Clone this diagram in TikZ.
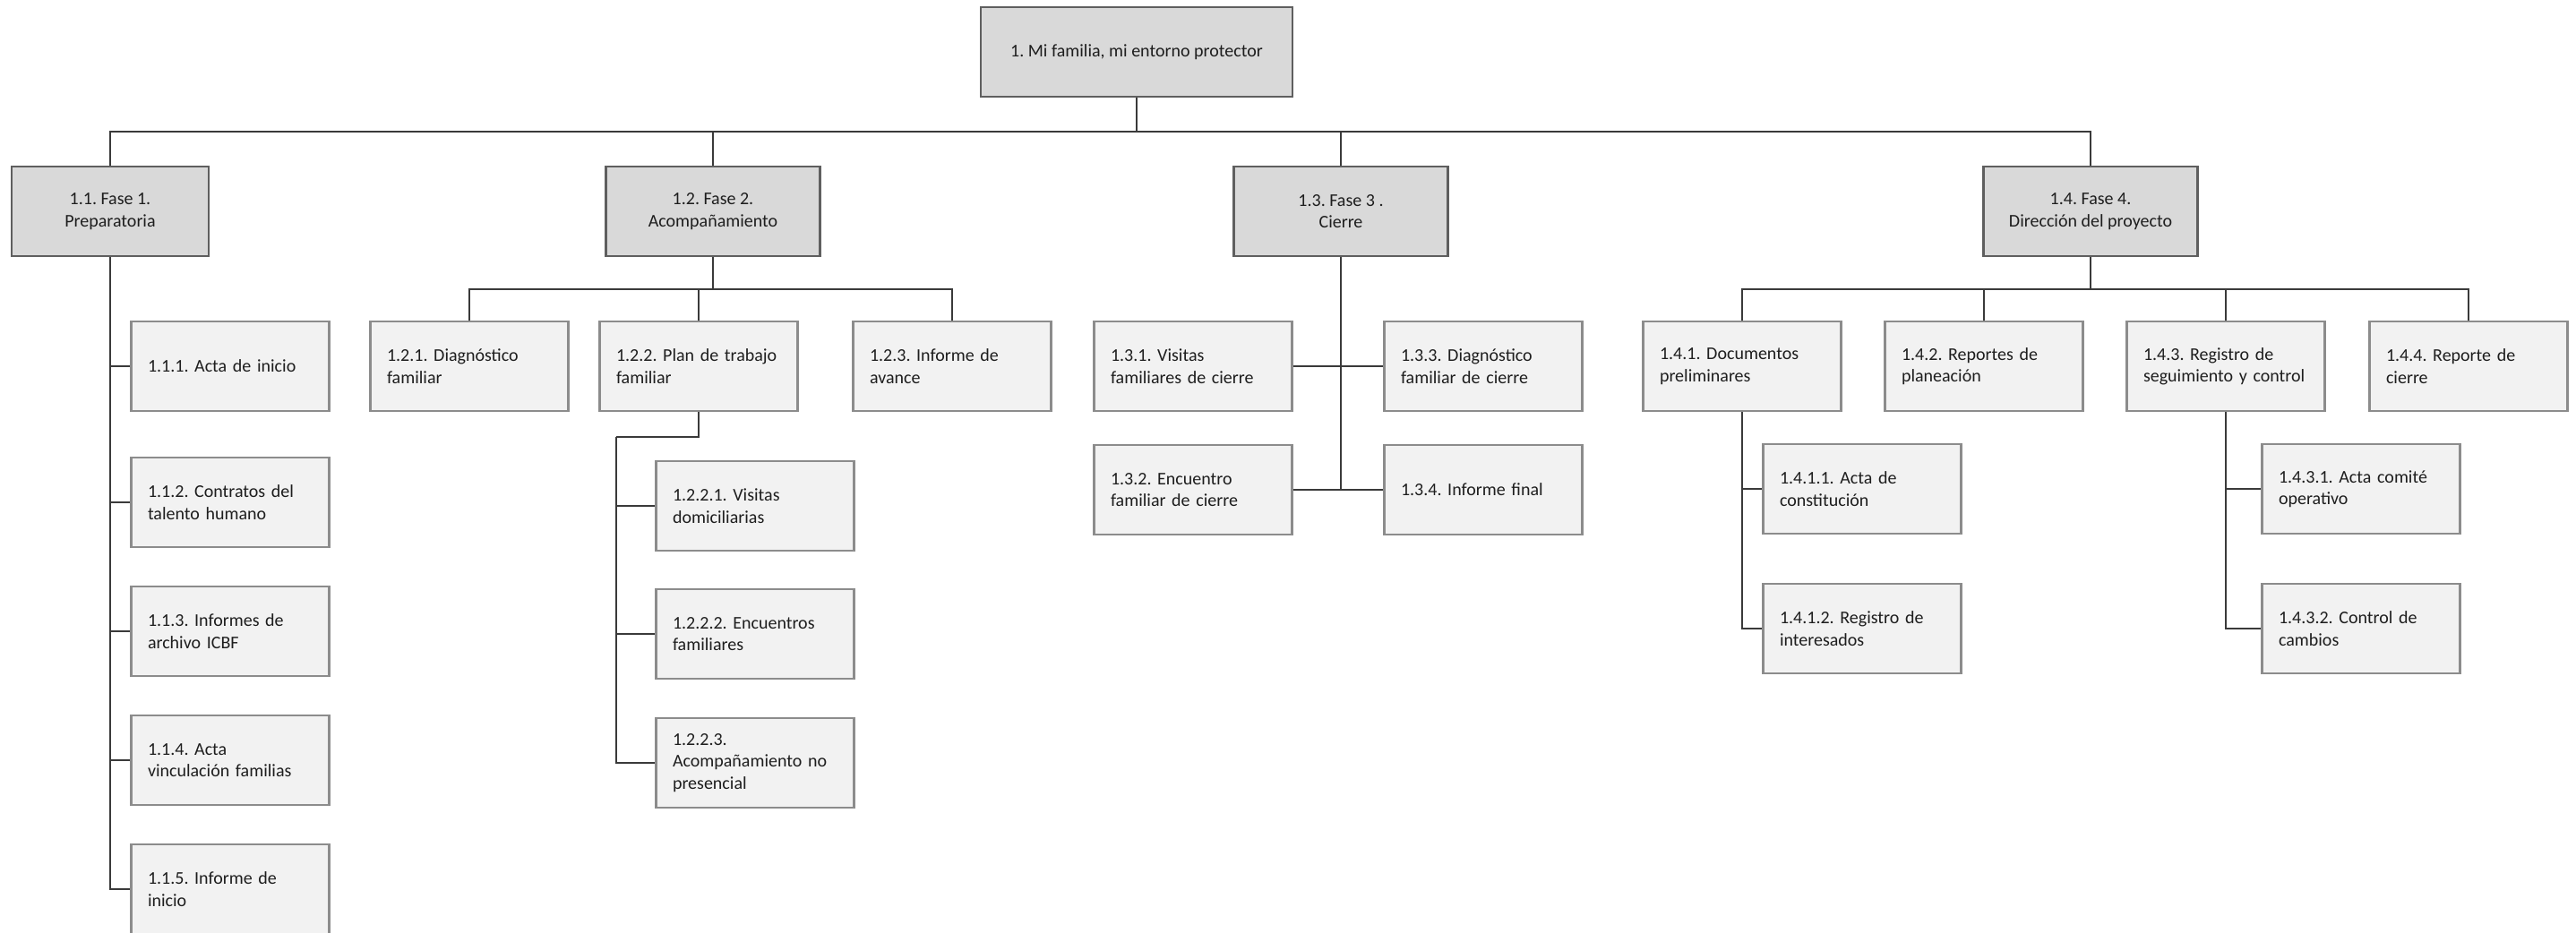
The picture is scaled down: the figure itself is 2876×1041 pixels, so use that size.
\documentclass[tikz,border=0pt]{standalone}
\usepackage{fontspec}
\setmainfont{Carlito}
\frenchspacing
\definecolor{headfill}{HTML}{D9D9D9}
\definecolor{headline}{HTML}{5F5F5F}
\definecolor{leaffill}{HTML}{F2F2F2}
\definecolor{leafline}{HTML}{8C8C8C}
\definecolor{wire}{HTML}{3A3A3A}
\definecolor{ink}{HTML}{1E1E1E}
\begin{document}
\begin{tikzpicture}[x=0.5pt,y=-0.5pt,
  headbox/.style={draw=headline, line width=1.4pt, fill=headfill, text=ink,
    align=center, inner sep=0pt, minimum height=50pt, font=\fontsize{10}{12.2}\selectfont},
  leafbox/.style={draw=leafline, line width=1.2pt, fill=leaffill, text=ink,
    align=left, text width=92pt, inner xsep=9.25pt, inner ysep=0pt,
    minimum height=50pt, font=\fontsize{10}{12.2}\selectfont},
  wirestyle/.style={draw=wire, line width=1pt}]
\useasboundingbox (0,0) rectangle (2876,1041);
\fill[white] (0,0) rectangle (2876,1041);
\clip (0,0) rectangle (2876,1041);

% root and phases
\node[headbox, minimum width=174pt] (root) at (1269,58) {1. Mi familia, mi entorno protector};
\node[headbox, minimum width=110pt] (p11) at (123,236) {1.1. Fase 1.\\Preparatoria};
\node[headbox, minimum width=119.5pt] (p12) at (796,236) {1.2. Fase 2.\\Acompañamiento};
\node[headbox, minimum width=119.5pt] (p13) at (1497,236) {1.3. Fase 3 .\\Cierre};
\node[headbox, minimum width=119.5pt] (p14) at (2334,236) {1.4. Fase 4.\\Dirección del proyecto};

% phase 1
\node[leafbox] (c111) at (257,409) {1.1.1. Acta de inicio};
\node[leafbox] (c112) at (257,561) {1.1.2. Contratos del\\talento humano};
\node[leafbox] (c113) at (257,705) {1.1.3. Informes de\\archivo ICBF};
\node[leafbox] (c114) at (257,849) {1.1.4. Acta\\vinculación familias};
\node[leafbox] (c115) at (257,993) {1.1.5. Informe de\\inicio};

% phase 2
\node[leafbox] (c121) at (524,409) {1.2.1. Diagnóstico\\familiar};
\node[leafbox] (c122) at (780,409) {1.2.2. Plan de trabajo\\familiar};
\node[leafbox] (c123) at (1063,409) {1.2.3. Informe de\\avance};
\node[leafbox] (c1221) at (843,565) {1.2.2.1. Visitas\\domiciliarias};
\node[leafbox] (c1222) at (843,708) {1.2.2.2. Encuentros\\familiares};
\node[leafbox] (c1223) at (843,852) {1.2.2.3.\\Acompañamiento no\\presencial};

% phase 3
\node[leafbox] (c131) at (1332,409) {1.3.1. Visitas\\familiares de cierre};
\node[leafbox] (c133) at (1656,409) {1.3.3. Diagnóstico\\familiar de cierre};
\node[leafbox] (c132) at (1332,547) {1.3.2. Encuentro\\familiar de cierre};
\node[leafbox] (c134) at (1656,547) {1.3.4. Informe final};

% phase 4
\node[leafbox] (c141) at (1945,409) {1.4.1. Documentos\\preliminares};
\node[leafbox] (c142) at (2215,409) {1.4.2. Reportes de\\planeación};
\node[leafbox] (c143) at (2485,409) {1.4.3. Registro de\\seguimiento y control};
\node[leafbox] (c144) at (2756,409) {1.4.4. Reporte de\\cierre};
\node[leafbox] (c1411) at (2079,546) {1.4.1.1. Acta de\\constitución};
\node[leafbox] (c1412) at (2079,702) {1.4.1.2. Registro de\\interesados};
\node[leafbox] (c1431) at (2636,546) {1.4.3.1. Acta comité\\operativo};
\node[leafbox] (c1432) at (2636,702) {1.4.3.2. Control de\\cambios};

% bus junctions
\coordinate (topbus) at (1269,147);
\coordinate (bus12) at (796,323);
\coordinate (bus14) at (2334,323);
\coordinate (elbow122) at (688,488);

\begin{scope}[wirestyle]
  % root to phases
  \draw (root.south) -- (topbus);
  \draw (topbus) -| (p11.north);
  \draw (topbus) -| (p12.north);
  \draw (topbus) -| (p13.north);
  \draw (topbus) -| (p14.north);
  % phase 1 column
  \draw (p11.south) |- (c111.west);
  \draw (p11.south) |- (c112.west);
  \draw (p11.south) |- (c113.west);
  \draw (p11.south) |- (c114.west);
  \draw (p11.south) |- (c115.west);
  % phase 2
  \draw (p12.south) -- (bus12);
  \draw (bus12) -| (c121.north);
  \draw (bus12) -| (c122.north);
  \draw (bus12) -| (c123.north);
  \draw (c122.south) |- (elbow122);
  \draw (elbow122) |- (c1221.west);
  \draw (elbow122) |- (c1222.west);
  \draw (elbow122) |- (c1223.west);
  % phase 3
  \draw (p13.south) -- (p13.south |- c132.east);
  \draw (c131.east) -- (c133.west);
  \draw (c132.east) -- (c134.west);
  % phase 4
  \draw (p14.south) -- (bus14);
  \draw (bus14) -| (c141.north);
  \draw (bus14) -| (c142.north);
  \draw (bus14) -| (c143.north);
  \draw (bus14) -| (c144.north);
  \draw (c141.south) |- (c1411.west);
  \draw (c141.south) |- (c1412.west);
  \draw (c143.south) |- (c1431.west);
  \draw (c143.south) |- (c1432.west);
\end{scope}
\end{tikzpicture}
\end{document}
